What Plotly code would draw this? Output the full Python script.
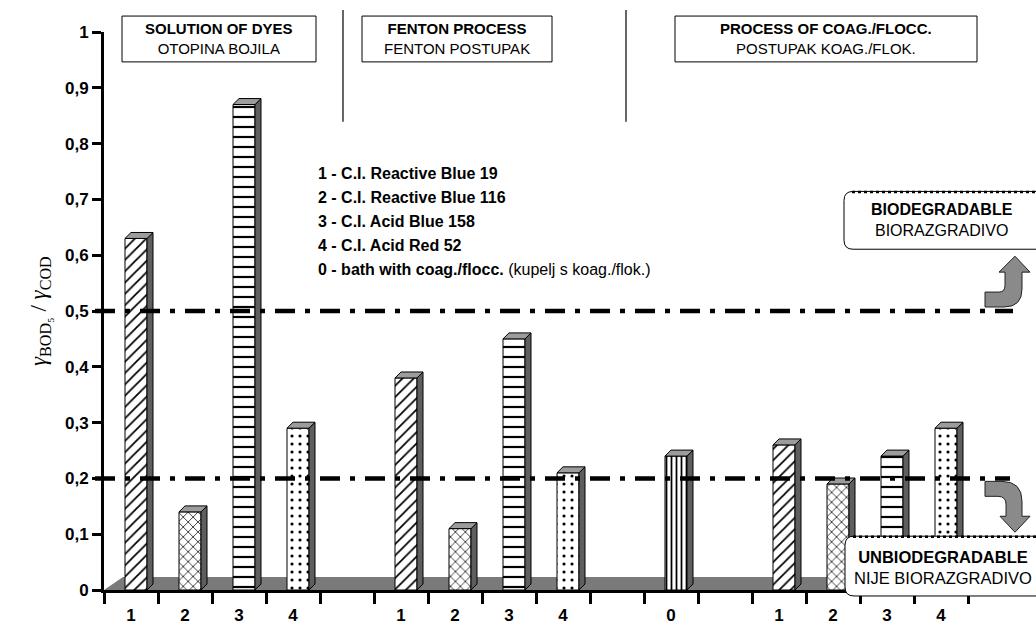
import plotly.graph_objects as go

# ---------------- data ----------------
dye_labels = ["1", "2", "3", "4"]
solution_of_dyes = [0.63, 0.14, 0.87, 0.29]
fenton_process = [0.38, 0.11, 0.45, 0.21]
bath_label = ["0"]
bath_coag = [0.24]
coag_process = [0.26, 0.19, 0.24, 0.29]

solution_slots = [0, 1, 2, 3]
fenton_slots = [5, 6, 7, 8]
bath_slots = [10]
coag_slots = [12, 13, 14, 15]

limit_biodegradable = 0.5
limit_unbiodegradable = 0.2

y_ticks = [0, 0.1, 0.2, 0.3, 0.4, 0.5, 0.6, 0.7, 0.8, 0.9, 1]

legend_lines = [
    "<b>1 - C.I. Reactive Blue 19</b>",
    "<b>2 - C.I. Reactive Blue 116</b>",
    "<b>3 - C.I. Acid Blue 158</b>",
    "<b>4 - C.I. Acid Red 52</b>",
    "<b>0 - bath with coag./flocc.</b> (kupelj s koag./flok.)",
]

# ---------------- geometry ----------------
W, H = 1036, 625
L, R, T, B = 104, 1036, 32, 592
SLOT_PX = 54.0
X_MAX = (R - L) / SLOT_PX
Y_PER_PX = 1.0 / (B - T)

def px(x):
    return (x - L) / (R - L)

def py(y):
    return (B - y) / (B - T)

FRONT_OFF = -6 / SLOT_PX
FRONT_W = 22 / SLOT_PX
SIDE_DX = 6 / SLOT_PX
SIDE_DY = 6 * Y_PER_PX

patterns = {
    "1": dict(shape="/", size=8, solidity=0.22),
    "2": dict(shape="x", size=7, solidity=0.2),
    "3": dict(shape="-", size=10, solidity=0.22),
    "4": dict(shape=".", size=8, solidity=0.12),
    "0": dict(shape="|", size=5, solidity=0.35),
}

bars = {k: ([], []) for k in patterns}
for slots, vals, labs in [
    (solution_slots, solution_of_dyes, dye_labels),
    (fenton_slots, fenton_process, dye_labels),
    (bath_slots, bath_coag, bath_label),
    (coag_slots, coag_process, dye_labels),
]:
    for s, v, lab in zip(slots, vals, labs):
        bars[lab][0].append(s + 0.5)
        bars[lab][1].append(v)

fig = go.Figure()

for lab, (xs, ys) in bars.items():
    p = patterns[lab]
    fig.add_trace(go.Bar(
        x=xs, y=ys, offset=FRONT_OFF, width=FRONT_W,
        marker=dict(color="white",
                    line=dict(color="black", width=1),
                    pattern=dict(shape=p["shape"], size=p["size"],
                                 solidity=p["solidity"], fgcolor="black",
                                 bgcolor="white", fillmode="replace")),
        showlegend=False, hoverinfo="skip",
    ))

side_x, side_y, top_x, top_y = [], [], [], []
for lab, (xs, ys) in bars.items():
    for c, v in zip(xs, ys):
        xl = c + FRONT_OFF
        xr = xl + FRONT_W
        side_x += [xr, xr + SIDE_DX, xr + SIDE_DX, xr, xr, None]
        side_y += [0, SIDE_DY, v + SIDE_DY, v, 0, None]
        top_x += [xl, xr, xr + SIDE_DX, xl + SIDE_DX, xl, None]
        top_y += [v, v, v + SIDE_DY, v + SIDE_DY, v, None]

fig.add_trace(go.Scatter(x=side_x, y=side_y, mode="lines", fill="toself",
                         fillcolor="#5e5e5e", line=dict(color="black", width=1),
                         showlegend=False, hoverinfo="skip"))
fig.add_trace(go.Scatter(x=top_x, y=top_y, mode="lines", fill="toself",
                         fillcolor="#9c9c9c", line=dict(color="black", width=1),
                         showlegend=False, hoverinfo="skip"))

# ---------------- axes ----------------
all_slots = solution_slots + fenton_slots + bath_slots + coag_slots
all_labels = dye_labels + dye_labels + bath_label + dye_labels
fig.update_xaxes(
    range=[0, X_MAX], showgrid=False, zeroline=False,
    showline=True, linecolor="black", linewidth=3,
    tickmode="array", tickvals=[s + 0.5 for s in all_slots], ticktext=all_labels,
    ticks="outside", ticklen=8, tickcolor="rgba(0,0,0,0)",
    tickfont=dict(family="Liberation Sans", size=17, color="black", weight="bold"),
    minor=dict(tickmode="array", tickvals=list(range(0, 17)), ticks="outside",
               ticklen=11, tickwidth=3, tickcolor="black"),
)
fig.update_yaxes(
    range=[0, 1], showgrid=False, zeroline=False,
    showline=True, linecolor="black", linewidth=3,
    tickmode="array", tickvals=y_ticks,
    ticks="outside", ticklen=9, tickwidth=3, tickcolor="black",
    tickfont=dict(family="Liberation Sans", size=17, color="black", weight="bold"),
)

shapes = []
shapes.append(dict(type="path", xref="paper", yref="paper", layer="below",
                   path=f"M {px(104)} {py(592)} L {px(1040)} {py(592)} L {px(1040)} {py(579)} L {px(123)} {py(579)} Z",
                   fillcolor="#7a7a7a", line=dict(width=0)))

for val, x_end in [(limit_biodegradable, 1013), (limit_unbiodegradable, 1010)]:
    shapes.append(dict(type="line", xref="paper", yref="y",
                       x0=px(95), x1=px(x_end), y0=val, y1=val,
                       line=dict(color="black", width=4.5, dash="20px,10px,5px,10px")))

headers = [
    (122, 316, "<b>SOLUTION OF DYES</b><br>OTOPINA BOJILA"),
    (362, 552, "<b>FENTON PROCESS</b><br>FENTON POSTUPAK"),
    (675, 977, "<b>PROCESS OF COAG./FLOCC.</b><br>POSTUPAK KOAG./FLOK."),
]
for x0, x1, _ in headers:
    shapes.append(dict(type="rect", xref="paper", yref="paper",
                       x0=px(x0), x1=px(x1), y0=py(62), y1=py(16),
                       line=dict(color="black", width=1), fillcolor="white"))
for xl in [343, 626]:
    shapes.append(dict(type="line", xref="paper", yref="paper",
                       x0=px(xl), x1=px(xl), y0=py(10), y1=py(122),
                       line=dict(color="#333333", width=1.5)))

def rounded_box(x0, y0, x1, y1, r=9):
    return (f"M {px(x0 + r)} {py(y0)} L {px(x1 - r)} {py(y0)} "
            f"Q {px(x1)} {py(y0)} {px(x1)} {py(y0 + r)} L {px(x1)} {py(y1 - r)} "
            f"Q {px(x1)} {py(y1)} {px(x1 - r)} {py(y1)} L {px(x0 + r)} {py(y1)} "
            f"Q {px(x0)} {py(y1)} {px(x0)} {py(y1 - r)} L {px(x0)} {py(y0 + r)} "
            f"Q {px(x0)} {py(y0)} {px(x0 + r)} {py(y0)} Z")

for (x0, y0, x1, y1) in [(844, 192, 1045, 250), (845, 538, 1045, 598)]:
    shapes.append(dict(type="path", xref="paper", yref="paper",
                       path=rounded_box(x0, y0, x1, y1),
                       fillcolor="white", line=dict(color="black", width=1)))
    shapes.append(dict(type="line", xref="paper", yref="paper",
                       x0=px(x0 + 8), x1=px(1040), y0=py(y0 + 0.5), y1=py(y0 + 0.5),
                       line=dict(color="black", width=2.5, dash="dot")))

def path_px(cmds):
    out = []
    for c in cmds:
        if isinstance(c, str):
            out.append(c)
        else:
            out.append(f"{px(c[0])},{py(c[1])}")
    return " ".join(out)

up_arrow = ["M", (985, 308), "L", (985, 293), "L", (999, 293), "Q", (1005, 293), (1005, 286),
            "L", (1005, 273), "L", (999, 273), "L", (1015, 257), "L", (1030, 273),
            "L", (1022, 273), "L", (1022, 290), "Q", (1022, 308), (1004, 308), "Z"]
down_arrow = ["M", (985, 483), "L", (1002, 483), "Q", (1022, 483), (1022, 503),
              "L", (1022, 518), "L", (1030, 518), "L", (1015, 534), "L", (1000, 518),
              "L", (1006, 518), "L", (1006, 506), "Q", (1006, 498), (998, 498),
              "L", (985, 498), "Z"]
for a in [up_arrow, down_arrow]:
    shapes.append(dict(type="path", xref="paper", yref="paper", path=path_px(a),
                       fillcolor="#8a8a8a", line=dict(color="#222222", width=1)))

annotations = []
for x0, x1, txt in headers:
    annotations.append(dict(xref="paper", yref="paper", x=px((x0 + x1) / 2), y=py(39),
                            text=txt, showarrow=False, xanchor="center", yanchor="middle",
                            font=dict(family="Liberation Sans", size=15, color="black")))

for i, line in enumerate(legend_lines):
    annotations.append(dict(xref="paper", yref="paper", x=px(316), y=py(174 + 24.2 * i),
                            text=line, showarrow=False, xanchor="left", yanchor="middle",
                            font=dict(family="Liberation Sans", size=16, color="black")))

annotations.append(dict(xref="paper", yref="paper", x=px(942), y=py(221),
                        text="<b>BIODEGRADABLE</b><br>BIORAZGRADIVO", showarrow=False,
                        xanchor="center", yanchor="middle",
                        font=dict(family="Liberation Sans", size=16, color="black")))
annotations.append(dict(xref="paper", yref="paper", x=px(943), y=py(569),
                        text="<b>UNBIODEGRADABLE</b><br>NIJE BIORAZGRADIVO", showarrow=False,
                        xanchor="center", yanchor="middle",
                        font=dict(family="Liberation Sans", size=16.5, color="black")))

annotations.append(dict(xref="paper", yref="paper", x=px(40), y=py(312),
                        text="<i>γ</i><sub>BOD₅</sub> / <i>γ</i><sub>COD</sub>",
                        textangle=-90, showarrow=False, xanchor="center", yanchor="middle",
                        font=dict(family="Liberation Serif", size=23, color="black")))

fig.update_layout(
    width=W, height=H,
    margin=dict(l=L, r=W - R, t=T, b=H - B, pad=0),
    paper_bgcolor="white", plot_bgcolor="white",
    separators=",.",
    barmode="overlay",
    shapes=shapes, annotations=annotations,
    showlegend=False,
)

fig.write_html(
    "out.html",
    config={"displayModeBar": False},
    post_script="document.body.style.margin='0';document.body.style.overflow='hidden';",
)
